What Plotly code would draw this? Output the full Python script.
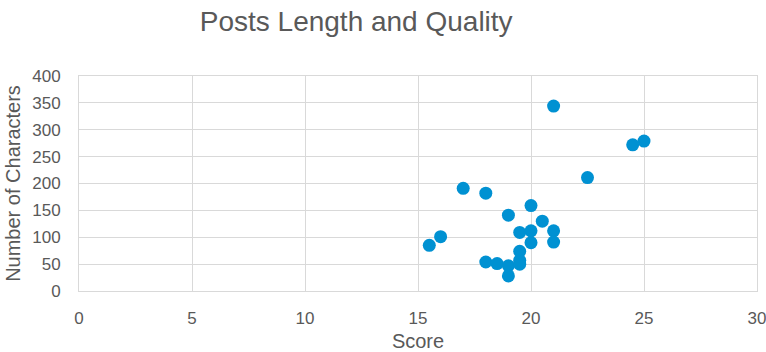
import plotly.graph_objects as go

score = [21, 24.5, 25, 22.5, 17, 18, 20, 19, 20.5, 19.5, 20, 21, 20, 21, 16, 15.5, 19.5, 18, 18.5, 19, 19.5, 19.5, 19]
chars = [344, 272, 279, 211, 191, 182, 159, 141, 130, 109, 112, 112, 90, 91, 101, 85, 74, 54, 51, 47, 57, 50, 28]

x_ticks = [0, 5, 10, 15, 20, 25, 30]
y_ticks = [0, 50, 100, 150, 200, 250, 300, 350, 400]

grey = "#595959"
grid = "#d9d9d9"
font = "Liberation Sans, Arial, sans-serif"

fig = go.Figure()
fig.add_trace(go.Scatter(
    x=score, y=chars, mode="markers",
    marker=dict(size=13, color="#0091d2", line=dict(width=0)),
    showlegend=False,
))

fig.update_layout(
    width=766, height=352,
    margin=dict(l=79, r=9, t=76, b=61),
    paper_bgcolor="white", plot_bgcolor="white",
    font=dict(family=font, color=grey),
    title=dict(text="Posts Length and Quality", x=0.465, xanchor="center",
               y=0.94, yanchor="middle", xref="container", yref="container",
               font=dict(size=28, color=grey, family=font)),
    xaxis=dict(range=[0, 30], tickvals=x_ticks, showgrid=True, gridcolor=grid,
               gridwidth=1, zeroline=False, showline=True, linecolor=grid,
               mirror=True, tickfont=dict(size=17, color=grey),
               ticks="", ticklabelstandoff=12, automargin=False,
               ticklabeloverflow="allow",
               title=dict(text="Score", font=dict(size=20, color=grey), standoff=8)),
    yaxis=dict(range=[0, 400], tickvals=y_ticks, showgrid=True, gridcolor=grid,
               gridwidth=1, zeroline=False, showline=True, linecolor=grid,
               mirror=True, tickfont=dict(size=17, color=grey), ticks="", ticklabelstandoff=14,
               automargin=False,
               title=dict(text="Number of Characters", font=dict(size=20, color=grey), standoff=6)),
)

fig.write_html("out.html")
